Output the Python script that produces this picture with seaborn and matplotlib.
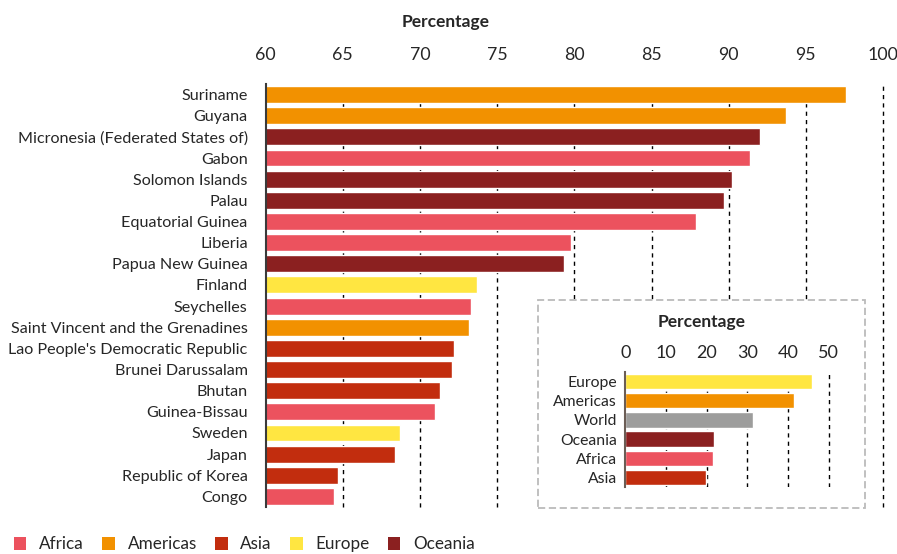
import matplotlib
matplotlib.use("Agg")
import matplotlib.pyplot as plt
import seaborn as sns
import pandas as pd
from matplotlib.patches import Rectangle, Patch

countries = ["Suriname", "Guyana", "Micronesia (Federated States of)", "Gabon",
             "Solomon Islands", "Palau", "Equatorial Guinea", "Liberia",
             "Papua New Guinea", "Finland", "Seychelles",
             "Saint Vincent and the Grenadines", "Lao People's Democratic Republic",
             "Brunei Darussalam", "Bhutan", "Guinea-Bissau", "Sweden", "Japan",
             "Republic of Korea", "Congo"]
values = [97.6, 93.7, 92.0, 91.4, 90.2, 89.7, 87.9, 79.8, 79.3, 73.7,
          73.3, 73.2, 72.2, 72.1, 71.3, 71.0, 68.7, 68.4, 64.7, 64.4]
regions = ["Americas", "Americas", "Oceania", "Africa", "Oceania", "Oceania",
           "Africa", "Africa", "Oceania", "Europe", "Africa", "Americas", "Asia",
           "Asia", "Asia", "Africa", "Europe", "Asia", "Asia", "Africa"]

inset_regions = ["Europe", "Americas", "World", "Oceania", "Africa", "Asia"]
inset_values = [45.9, 41.5, 31.4, 21.8, 21.5, 19.9]

main_ticks = [60, 65, 70, 75, 80, 85, 90, 95, 100]
inset_ticks = [0, 10, 20, 30, 40, 50]

palette = {"Africa": "#EC525E", "Americas": "#F29100", "Asia": "#C22D0E",
           "Europe": "#FFE641", "Oceania": "#8B2020", "World": "#9D9D9C"}
legend_order = ["Africa", "Americas", "Asia", "Europe", "Oceania"]

sns.set_style("white")
plt.rcParams["font.family"] = ["Lato", "DejaVu Sans"]

df = pd.DataFrame({"country": countries, "value": values, "region": regions})
df_in = pd.DataFrame({"region": inset_regions, "value": inset_values})

fig = plt.figure(figsize=(8.97, 5.54), dpi=100)
W, H = 897, 554

def rect(l, t, r, b):
    return [l / W, 1 - b / H, (r - l) / W, (b - t) / H]

ax = fig.add_axes(rect(265.7, 84, 883, 507))
sns.barplot(data=df, y="country", x="value", hue="region", palette=palette,
            dodge=False, legend=False, width=0.8, saturation=1, ax=ax, zorder=1)
ax.set_xlim(60, 100)
ax.set_xticks(main_ticks)
ax.xaxis.tick_top()
ax.tick_params(axis="x", length=0, labelsize=12.8, pad=15)
ax.tick_params(axis="y", length=0, labelsize=11.6, pad=13)
ax.set_xlabel("")
ax.set_ylabel("")
for t in main_ticks[1:]:
    ax.axvline(t, color="black", lw=1, ls=(0, (3, 3)), zorder=0.5, clip_on=False)
for s in ["top", "right", "bottom"]:
    ax.spines[s].set_visible(False)
ax.spines["left"].set_color("#3a3a3a")
ax.spines["left"].set_linewidth(1.5)
ax.spines["left"].set_zorder(3)
# keep the last tick label inside the figure
ax.get_xticklabels()[-1].set_horizontalalignment("center")
fig.text(0.497, 1 - 22 / H, "Percentage", ha="center", va="center",
         fontsize=12.5, fontweight="bold")

# inset box
box = Rectangle((538 / W, 1 - 508 / H), (865 - 538) / W, (508 - 300) / H,
                transform=fig.transFigure, fill=True, facecolor="white",
                edgecolor="#bbbbbb", lw=1.3, ls=(0, (4, 2)), zorder=5)
fig.patches.append(box)

axi = fig.add_axes(rect(625.3, 372, 849, 487))
axi.set_zorder(6)
sns.barplot(data=df_in, y="region", x="value", hue="region", palette=palette,
            dodge=False, legend=False, width=0.8, saturation=1, ax=axi, zorder=1)
axi.set_xlim(0, 55)
axi.set_xticks(inset_ticks)
axi.xaxis.tick_top()
axi.tick_params(axis="x", length=0, labelsize=13, pad=8)
axi.tick_params(axis="y", length=0, labelsize=11.3, pad=6)
axi.set_xlabel("")
axi.set_ylabel("")
for t in inset_ticks[1:]:
    axi.axvline(t, color="black", lw=1, ls=(0, (3, 3)), zorder=0.5)
for s in ["top", "right", "bottom"]:
    axi.spines[s].set_visible(False)
axi.spines["left"].set_color("#6b5d55")
axi.spines["left"].set_linewidth(1.5)
axi.patch.set_alpha(0)
fig.text(702 / W, 1 - 322 / H, "Percentage", ha="center", va="center",
         fontsize=12.5, fontweight="bold", zorder=7)

handles = [Patch(facecolor=palette[r], edgecolor="none", label=r) for r in legend_order]
fig.legend(handles=handles, loc="lower left", bbox_to_anchor=(-0.002, -0.025),
           ncol=5, frameon=False, fontsize=12.3, handlelength=0.75,
           handleheight=0.75, handletextpad=0.75, columnspacing=1.05)

fig.savefig("out.png", dpi=100)
